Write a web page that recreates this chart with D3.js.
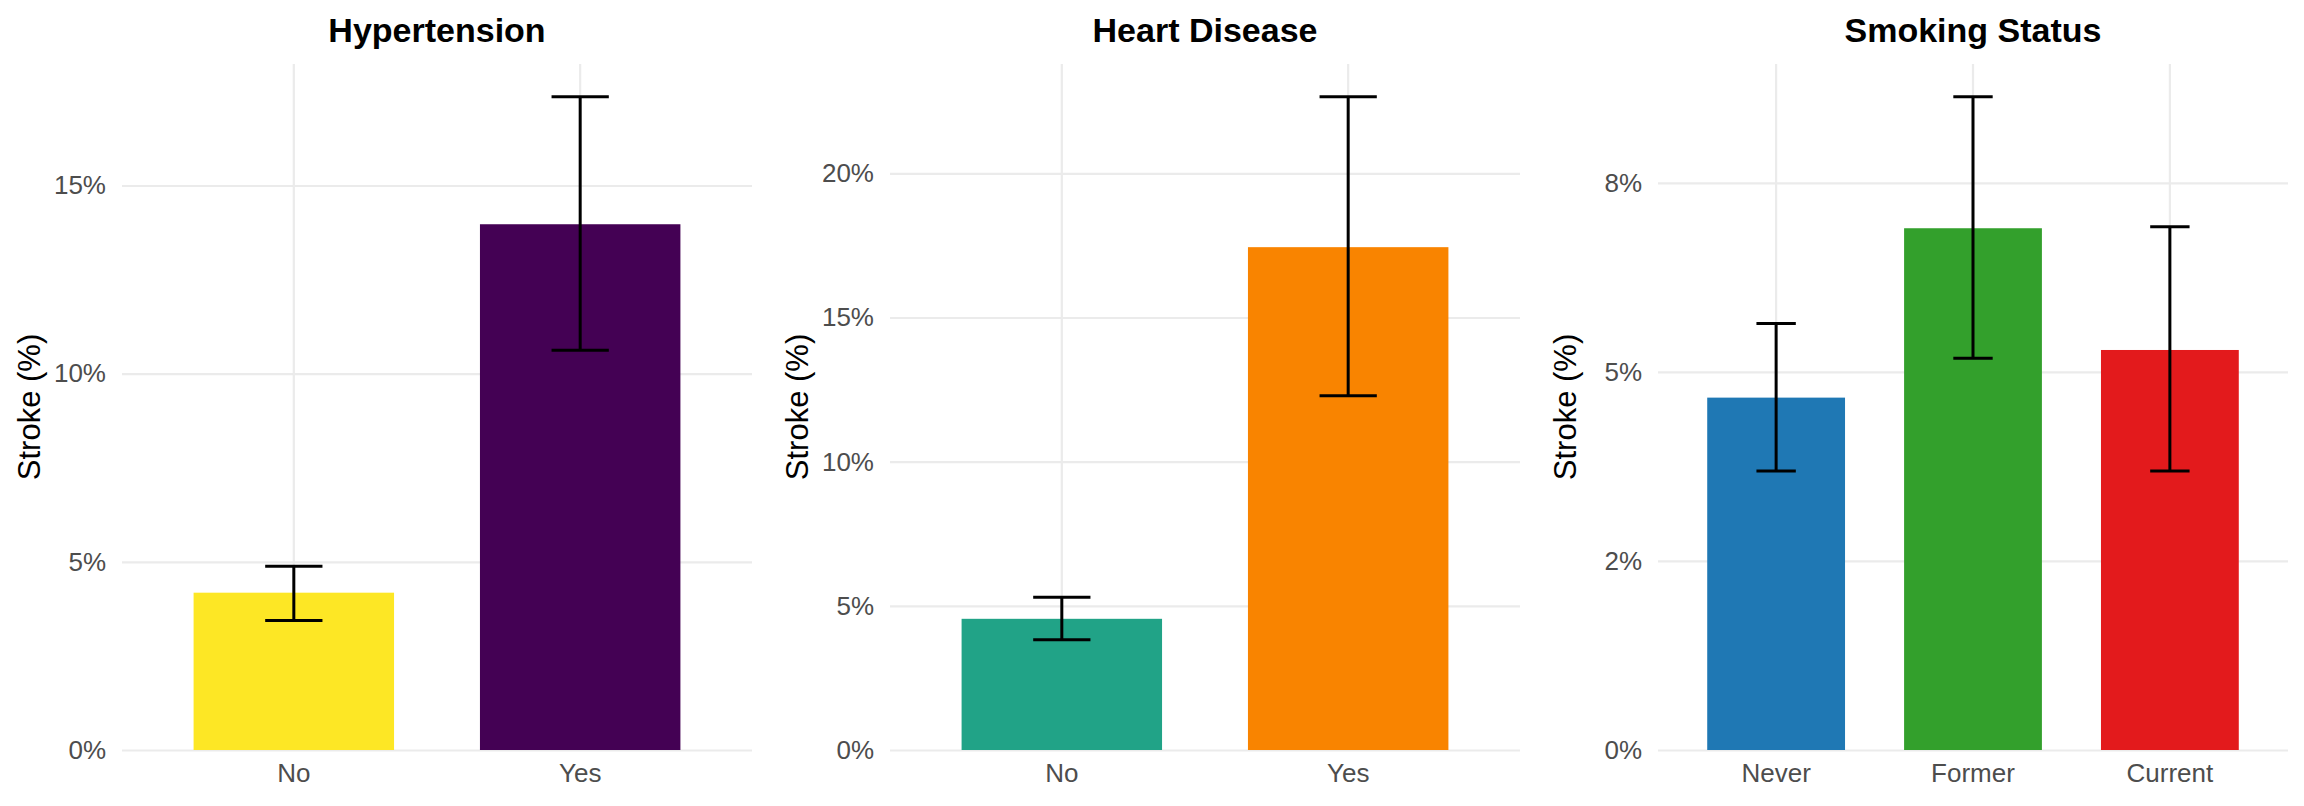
<!DOCTYPE html>
<html>
<head>
<meta charset="utf-8">
<script src="https://cdn.jsdelivr.net/npm/d3@7"></script>
<style>
  body { margin: 0; background: #fff; }
  svg { font-family: "Liberation Sans", Arial, Helvetica, sans-serif; }
</style>
</head>
<body>
<div id="chart-area"></div>
<script>
// panel titles
const titles = ["Hypertension", "Heart Disease", "Smoking Status"];

// categories per panel
const hyperCats = ["No", "Yes"];
const heartCats = ["No", "Yes"];
const smokeCats = ["Never", "Former", "Current"];

// stroke rate (%) and 95% CI bounds
const hyperRate = [4.18, 13.97];
const hyperLow  = [3.44, 10.62];
const hyperHigh = [4.88, 17.36];

const heartRate = [4.55, 17.44];
const heartLow  = [3.82, 12.29];
const heartHigh = [5.30, 22.66];

const smokeRate = [4.66, 6.90, 5.29];
const smokeLow  = [3.69, 5.18, 3.69];
const smokeHigh = [5.64, 8.64, 6.92];

// bar colours
const hyperColors = ["#FDE725", "#440154"];
const heartColors = ["#21A387", "#F98400"];
const smokeColors = ["#1F78B4", "#33A02C", "#E31A1C"];

// y tick values and labels
const hyperTicks = [0, 5, 10, 15];
const hyperTickLabels = ["0%", "5%", "10%", "15%"];
const heartTicks = [0, 5, 10, 15, 20];
const heartTickLabels = ["0%", "5%", "10%", "15%", "20%"];
const smokeTicks = [0, 2.5, 5, 7.5];
const smokeTickLabels = ["0%", "2%", "5%", "8%"];

const panels = [
  {title: titles[0], cats: hyperCats, rate: hyperRate, low: hyperLow, high: hyperHigh,
   colors: hyperColors, ticks: hyperTicks, labels: hyperTickLabels},
  {title: titles[1], cats: heartCats, rate: heartRate, low: heartLow, high: heartHigh,
   colors: heartColors, ticks: heartTicks, labels: heartTickLabels},
  {title: titles[2], cats: smokeCats, rate: smokeRate, low: smokeLow, high: smokeHigh,
   colors: smokeColors, ticks: smokeTicks, labels: smokeTickLabels}
];

const margin = {top: 64, right: 16, bottom: 56, left: 122},
    panelW = 768,
    width = panelW - margin.left - margin.right,
    height = 806 - margin.top - margin.bottom;

const svg = d3.select("#chart-area")
  .append("svg")
    .attr("width", 2304)
    .attr("height", 806);

panels.forEach(function(p, i) {
  const g = svg.append("g")
    .attr("transform", `translate(${i * panelW + margin.left}, ${margin.top})`);

  const data = p.cats.map((c, j) => ({cat: c, rate: p.rate[j], low: p.low[j], high: p.high[j], color: p.colors[j]}));

  const x = d3.scaleBand()
    .domain(p.cats)
    .range([0, width])
    .paddingInner(0.3)
    .paddingOuter(0.25);

  const y = d3.scaleLinear()
    .domain([0, d3.max(p.high) * 1.05])
    .range([height, 0]);

  const step = x.step();

  // horizontal grid + y labels
  const yAxis = g.append("g")
    .call(d3.axisLeft(y)
      .tickValues(p.ticks)
      .tickFormat((d, k) => p.labels[k])
      .tickSize(-width)
      .tickPadding(16));
  yAxis.select(".domain").remove();
  yAxis.selectAll("line").attr("stroke", "#EBEBEB").attr("stroke-width", 2.2);
  yAxis.selectAll("text")
    .attr("fill", "#4D4D4D")
    .style("font-size", "26px");

  // vertical grid + x labels
  const xAxis = g.append("g")
    .attr("transform", `translate(0, ${height})`)
    .call(d3.axisBottom(x).tickSize(-height).tickPadding(14));
  xAxis.select(".domain").remove();
  xAxis.selectAll("line").attr("stroke", "#EBEBEB").attr("stroke-width", 2.2);
  xAxis.selectAll("text")
    .attr("fill", "#4D4D4D")
    .style("font-size", "26px");

  // bars
  g.selectAll(".bar")
    .data(data)
    .enter()
    .append("rect")
      .attr("x", d => x(d.cat))
      .attr("y", d => y(d.rate))
      .attr("width", x.bandwidth())
      .attr("height", d => height - y(d.rate))
      .attr("fill", d => d.color);

  // error bars
  const eb = g.selectAll(".err")
    .data(data)
    .enter()
    .append("g")
      .attr("stroke", "#000")
      .attr("stroke-width", 3)
      .attr("fill", "none");
  const cx = d => x(d.cat) + x.bandwidth() / 2;
  eb.append("line")
    .attr("x1", cx).attr("x2", cx)
    .attr("y1", d => y(d.low)).attr("y2", d => y(d.high));
  eb.append("line")
    .attr("x1", d => cx(d) - step * 0.1).attr("x2", d => cx(d) + step * 0.1)
    .attr("y1", d => y(d.high)).attr("y2", d => y(d.high));
  eb.append("line")
    .attr("x1", d => cx(d) - step * 0.1).attr("x2", d => cx(d) + step * 0.1)
    .attr("y1", d => y(d.low)).attr("y2", d => y(d.low));

  // title
  g.append("text")
    .attr("x", width / 2)
    .attr("y", 42 - margin.top)
    .attr("text-anchor", "middle")
    .style("font-size", "34px")
    .style("font-weight", "bold")
    .attr("fill", "#000")
    .text(p.title);

  // y axis title
  g.append("text")
    .attr("transform", `translate(${40 - margin.left}, ${height / 2}) rotate(-90)`)
    .attr("text-anchor", "middle")
    .style("font-size", "31px")
    .attr("fill", "#000")
    .text("Stroke (%)");
});
</script>
</body>
</html>
